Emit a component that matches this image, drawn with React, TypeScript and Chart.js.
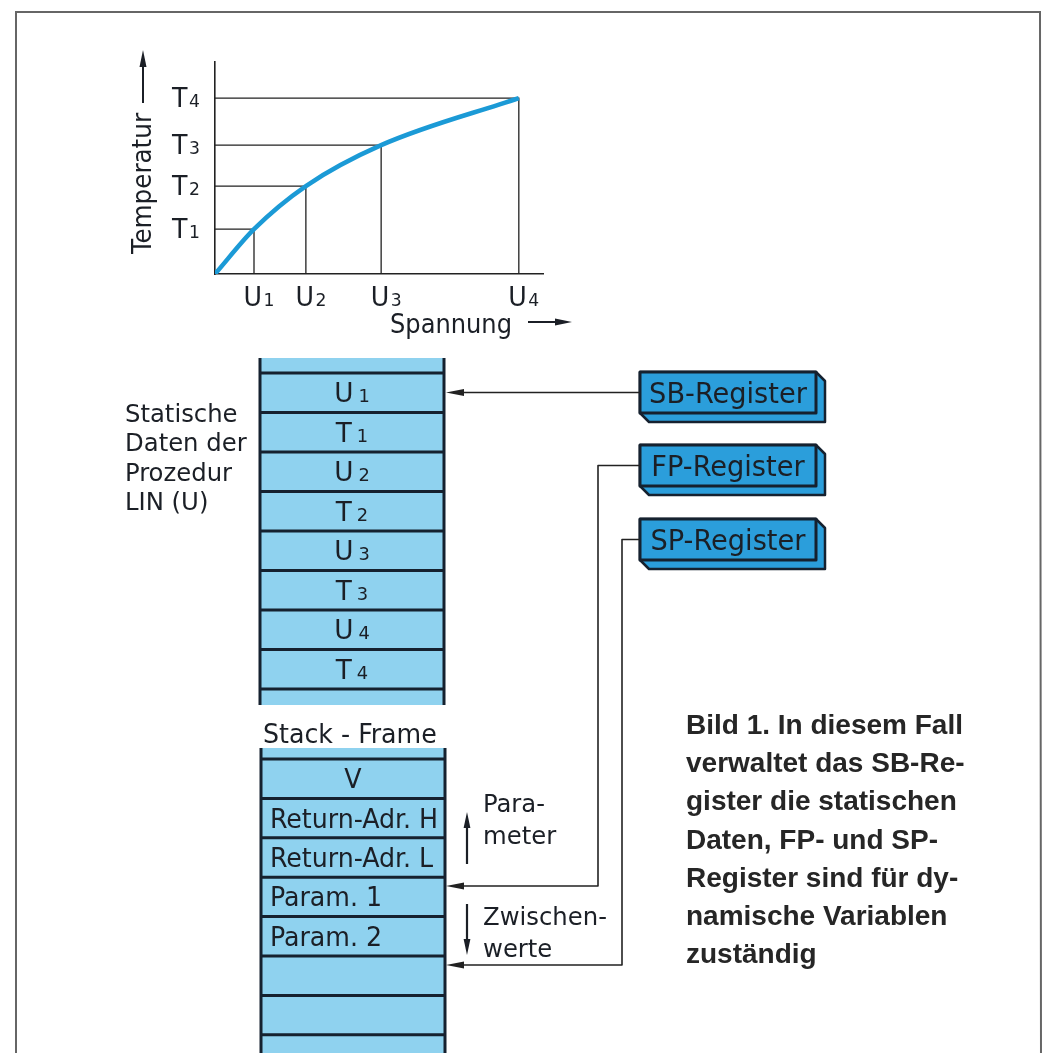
import React, { useEffect, useRef } from 'react';
import { Chart, registerables } from 'chart.js';

Chart.register(...registerables);

// ---- data ----
const U_VALUES = [1.0, 2.33, 4.26, 7.79];
const T_VALUES = [1.02, 2.0, 2.93, 4.0];
const U_NAMES = ['U1', 'U2', 'U3', 'U4'];
const T_NAMES = ['T1', 'T2', 'T3', 'T4'];
const X_MAX = 8.41;
const Y_MAX = 4.82;
const X_TITLE = 'Spannung';
const Y_TITLE = 'Temperatur';
const STATIC_ROWS = ['U1', 'T1', 'U2', 'T2', 'U3', 'T3', 'U4', 'T4'];
const STATIC_LABEL = ['Statische', 'Daten der', 'Prozedur', 'LIN (U)'];
const STACK_TITLE = 'Stack - Frame';
const STACK_ROWS = ['V', 'Return-Adr. H', 'Return-Adr. L', 'Param. 1', 'Param. 2', '', ''];
const REGISTERS = ['SB-Register', 'FP-Register', 'SP-Register'];
const PARAM_LABEL = ['Para-', 'meter'];
const TEMP_LABEL = ['Zwischen-', 'werte'];
const CAPTION = [
  'Bild 1. In diesem Fall',
  'verwaltet das SB-Re-',
  'gister die statischen',
  'Daten, FP- und SP-',
  'Register sind für dy-',
  'namische Variablen',
  'zuständig',
];

// ---- styles ----
const TECH = '"DejaVu Sans Condensed", "DejaVu Sans", sans-serif';
const INK = '#1b1f26';
const LINE_DARK = '#15212f';
const TABLE_FILL = '#8fd2ef';
const REG_FILL = '#2b9edb';
const CURVE = '#1b9ad6';

let HS = 1;

function techText(ctx: CanvasRenderingContext2D, s: string, x: number, y: number, size: number, align = 'left') {
  ctx.font = `${size}px ${TECH}`;
  const w = ctx.measureText(s).width * HS;
  const x0 = align === 'center' ? x - w / 2 : align === 'right' ? x - w : x;
  ctx.save();
  ctx.translate(x0, y);
  ctx.scale(HS, 1);
  ctx.textAlign = 'left';
  ctx.textBaseline = 'alphabetic';
  ctx.fillText(s, 0, 0);
  ctx.restore();
  return w;
}

function subText(ctx: CanvasRenderingContext2D, name: string, x: number, y: number, size: number, gap: number, align = 'left') {
  const main = name.slice(0, -1);
  const sub = name.slice(-1);
  ctx.font = `${size}px ${TECH}`;
  const w1 = ctx.measureText(main).width * HS;
  ctx.font = `${size * 0.68}px ${TECH}`;
  const w2 = ctx.measureText(sub).width * HS;
  const total = w1 + gap + w2;
  const x0 = align === 'center' ? x - total / 2 : x;
  techText(ctx, main, x0, y, size);
  techText(ctx, sub, x0 + w1 + gap, y, size * 0.68);
}

function arrowHead(ctx: CanvasRenderingContext2D, tx: number, ty: number, dx: number, dy: number, len: number, half: number) {
  const px = -dy, py = dx;
  ctx.beginPath();
  ctx.moveTo(tx, ty);
  ctx.lineTo(tx - dx * len + px * half, ty - dy * len + py * half);
  ctx.lineTo(tx - dx * len - px * half, ty - dy * len - py * half);
  ctx.closePath();
  ctx.fill();
}

function drawTable(ctx: CanvasRenderingContext2D, x: number, w: number, top: number, bottom: number, lines: number[]) {
  ctx.fillStyle = TABLE_FILL;
  ctx.fillRect(x, top, w, bottom - top);
  ctx.strokeStyle = LINE_DARK;
  ctx.lineWidth = 3;
  ctx.beginPath();
  ctx.moveTo(x, top); ctx.lineTo(x, bottom);
  ctx.moveTo(x + w, top); ctx.lineTo(x + w, bottom);
  lines.forEach((ly) => { ctx.moveTo(x, ly); ctx.lineTo(x + w, ly); });
  ctx.stroke();
}

function drawRegister(ctx: CanvasRenderingContext2D, x: number, y: number, w: number, h: number, d: number, label: string) {
  ctx.fillStyle = REG_FILL;
  ctx.strokeStyle = LINE_DARK;
  ctx.lineJoin = 'round';
  ctx.lineWidth = 2.5;
  ctx.beginPath();
  ctx.moveTo(x, y);
  ctx.lineTo(x + w, y);
  ctx.lineTo(x + w + d, y + d);
  ctx.lineTo(x + w + d, y + h + d);
  ctx.lineTo(x + d, y + h + d);
  ctx.lineTo(x, y + h);
  ctx.closePath();
  ctx.fill();
  ctx.stroke();
  ctx.lineWidth = 3;
  ctx.beginPath();
  ctx.rect(x, y, w, h);
  ctx.fill();
  ctx.stroke();
  ctx.fillStyle = INK;
  techText(ctx, label, x + w / 2, y + h / 2 + 10, 28, 'center');
}

const diagramPlugin = {
  id: 'diagram',
  beforeDraw(chart: any) {
    const ctx = chart.ctx as CanvasRenderingContext2D;
    ctx.save();
    ctx.fillStyle = '#ffffff';
    ctx.fillRect(0, 0, chart.width, chart.height);
    // frame
    ctx.strokeStyle = '#666666';
    ctx.lineWidth = 2;
    ctx.beginPath();
    ctx.moveTo(16, 1053); ctx.lineTo(16, 12); ctx.lineTo(1040, 12); ctx.lineTo(1041, 1053);
    ctx.stroke();
    ctx.restore();
  },
  afterDraw(chart: any) {
    const ctx = chart.ctx as CanvasRenderingContext2D;
    const xs = chart.scales.x;
    const ys = chart.scales.y;
    ctx.save();
    ctx.font = `26px ${TECH}`;
    HS = 168 / ctx.measureText('Return-Adr. H').width;

    ctx.fillStyle = INK;
    // tick labels
    U_VALUES.forEach((u, i) => subText(ctx, U_NAMES[i], xs.getPixelForValue(u) + 5, 306, 26, 1.5, 'center'));
    T_VALUES.forEach((t, i) => subText(ctx, T_NAMES[i], 172, ys.getPixelForValue(t) + 9, 26, 1.5));

    // y title rotated + arrow
    ctx.save();
    ctx.translate(151, 254);
    ctx.rotate(-Math.PI / 2);
    ctx.font = `27px ${TECH}`;
    const tw = ctx.measureText(Y_TITLE).width;
    ctx.scale(141 / tw, 1);
    ctx.fillText(Y_TITLE, 0, 0);
    ctx.restore();
    ctx.strokeStyle = INK;
    ctx.lineWidth = 2;
    ctx.beginPath(); ctx.moveTo(143, 103); ctx.lineTo(143, 62); ctx.stroke();
    arrowHead(ctx, 143, 50, 0, -1, 17, 3.5);

    // x title + arrow
    ctx.save();
    ctx.font = `27px ${TECH}`;
    const sw = ctx.measureText(X_TITLE).width;
    ctx.translate(390, 333);
    ctx.scale(122 / sw, 1);
    ctx.fillText(X_TITLE, 0, 0);
    ctx.restore();
    ctx.beginPath(); ctx.moveTo(528, 322); ctx.lineTo(560, 322); ctx.stroke();
    arrowHead(ctx, 572, 322, 1, 0, 17, 3.5);

    // static data table
    const tx = 260, tw2 = 184;
    const rowH = 39.5;
    const t1Top = 373;
    const t1Lines = STATIC_ROWS.map((_, i) => t1Top + i * rowH).concat([t1Top + STATIC_ROWS.length * rowH]);
    drawTable(ctx, tx, tw2, 358, 705, t1Lines);
    ctx.fillStyle = INK;
    STATIC_ROWS.forEach((r, i) => subText(ctx, r, tx + tw2 / 2, t1Top + i * rowH + rowH / 2 + 9.5, 27, 5, 'center'));
    STATIC_LABEL.forEach((s, i) => techText(ctx, s, 125, 422 + i * 29.3, 25));

    // stack frame table
    ctx.fillStyle = INK;
    techText(ctx, STACK_TITLE, 263, 743, 26);
    const t2Top = 759;
    const t2Lines = STACK_ROWS.map((_, i) => t2Top + i * 39.4).concat([t2Top + STACK_ROWS.length * 39.4]);
    drawTable(ctx, 261, tw2, 748, 1060, t2Lines);
    ctx.fillStyle = INK;
    STACK_ROWS.forEach((r, i) => {
      const by = t2Top + i * 39.4 + 39.4 / 2 + 9.5;
      if (r.length === 1) techText(ctx, r, 261 + tw2 / 2, by, 26, 'center');
      else if (r) techText(ctx, r, 270, by, 26);
    });

    // side notes
    techText(ctx, PARAM_LABEL[0], 483, 812, 25);
    techText(ctx, PARAM_LABEL[1], 483, 844, 25);
    techText(ctx, TEMP_LABEL[0], 483, 925, 25);
    techText(ctx, TEMP_LABEL[1], 483, 957, 25);
    ctx.strokeStyle = INK;
    ctx.lineWidth = 2.2;
    ctx.beginPath(); ctx.moveTo(467, 864); ctx.lineTo(467, 825); ctx.stroke();
    arrowHead(ctx, 467, 812, 0, -1, 16, 3.4);
    ctx.beginPath(); ctx.moveTo(467, 904); ctx.lineTo(467, 942); ctx.stroke();
    arrowHead(ctx, 467, 955, 0, 1, 16, 3.4);

    // registers
    const regTops = [372, 445, 519];
    const regH = 41;
    REGISTERS.forEach((r, i) => drawRegister(ctx, 640, regTops[i], 176, regH, 9, r));

    // connections
    ctx.strokeStyle = '#222222';
    ctx.fillStyle = '#222222';
    ctx.lineWidth = 1.6;
    const sbY = regTops[0] + regH / 2;
    ctx.beginPath(); ctx.moveTo(640, sbY); ctx.lineTo(456, sbY); ctx.stroke();
    arrowHead(ctx, 446, sbY, -1, 0, 18, 3.5);
    const fpY = regTops[1] + regH / 2;
    ctx.beginPath(); ctx.moveTo(640, fpY); ctx.lineTo(598, fpY); ctx.lineTo(598, 886); ctx.lineTo(456, 886); ctx.stroke();
    arrowHead(ctx, 446, 886, -1, 0, 18, 3.5);
    const spY = regTops[2] + regH / 2;
    ctx.beginPath(); ctx.moveTo(640, spY); ctx.lineTo(622, spY); ctx.lineTo(622, 965); ctx.lineTo(456, 965); ctx.stroke();
    arrowHead(ctx, 446, 965, -1, 0, 18, 3.5);

    // caption
    ctx.fillStyle = '#262626';
    ctx.font = 'bold 28px "Liberation Sans", Arial, sans-serif';
    ctx.textAlign = 'left';
    ctx.textBaseline = 'alphabetic';
    CAPTION.forEach((line, i) => ctx.fillText(line, 686, 734 + i * 38.2));
    ctx.restore();
  },
};

export default function App() {
  const ref = useRef<HTMLCanvasElement | null>(null);
  useEffect(() => {
    if (!ref.current) return;
    const curve = [{ x: 0, y: 0 }].concat(U_VALUES.map((u, i) => ({ x: u, y: T_VALUES[i] })));
    const drops = U_VALUES.map((u, i) => ({
      data: [{ x: 0, y: T_VALUES[i] }, { x: u, y: T_VALUES[i] }, { x: u, y: 0 }],
      borderColor: '#222222',
      borderWidth: 1.3,
      showLine: true,
      pointRadius: 0,
      tension: 0,
      order: 2,
    }));
    const chart = new Chart(ref.current, {
      type: 'scatter',
      data: {
        datasets: [
          {
            data: curve,
            borderColor: CURVE,
            borderWidth: 4.5,
            showLine: true,
            pointRadius: 0,
            cubicInterpolationMode: 'monotone',
            order: 0,
          } as any,
          ...drops,
        ],
      },
      options: {
        animation: false,
        responsive: false,
        devicePixelRatio: 1,
        events: [],
        layout: { padding: { left: 215, top: 62, right: 1052 - 543, bottom: 1053 - 274 } },
        plugins: { legend: { display: false }, tooltip: { enabled: false } },
        scales: {
          x: {
            type: 'linear', min: 0, max: X_MAX,
            grid: { display: false, drawTicks: false },
            ticks: { display: false },
            border: { display: true, color: '#222222', width: 1.6 },
          },
          y: {
            type: 'linear', min: 0, max: Y_MAX,
            grid: { display: false, drawTicks: false },
            ticks: { display: false },
            border: { display: true, color: '#222222', width: 1.6 },
          },
        },
      },
      plugins: [diagramPlugin],
    });
    return () => chart.destroy();
  }, []);
  return (
    <div style={{ position: 'absolute', left: 0, top: 0, width: 1052, height: 1053, background: '#fff' }}>
      <canvas ref={ref} width={1052} height={1053} style={{ display: 'block' }} />
    </div>
  );
}
